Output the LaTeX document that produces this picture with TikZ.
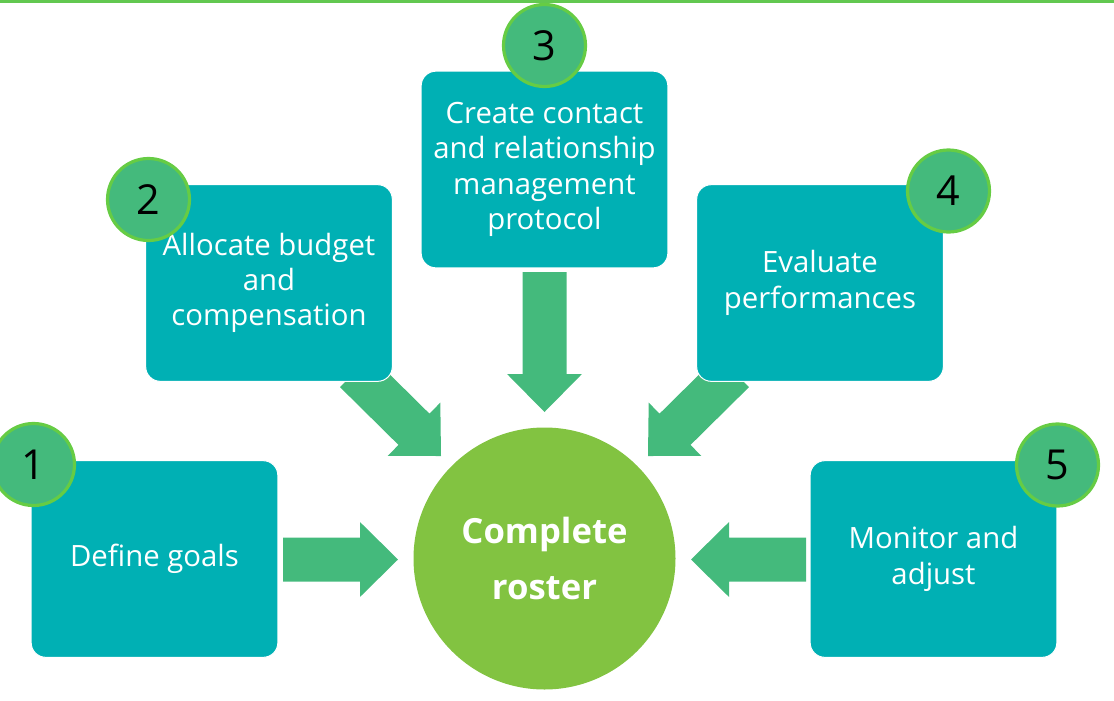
\documentclass[tikz,border=0pt]{standalone}
\usepackage{fontspec}
\setmainfont{Open Sans}
\usetikzlibrary{calc}

\definecolor{boxteal}{RGB}{0,176,180}
\definecolor{arrowgreen}{RGB}{68,186,124}
\definecolor{badgefill}{RGB}{68,186,124}
\definecolor{badgeedge}{RGB}{102,204,68}
\definecolor{hubgreen}{RGB}{130,195,65}
\definecolor{rulegreen}{RGB}{98,200,80}

% block arrow from tail coordinate #1 to tip coordinate #2
\newcommand\blockarrow[2]{%
  \coordinate (#1-base) at ($(#2)!28.5pt!(#1)$);
  \fill[arrowgreen]
    ($(#1)!16.5pt!90:(#2)$) --
    ($(#1-base)!16.5pt!-90:(#1)$) --
    ($(#1-base)!28.1pt!-90:(#1)$) --
    (#2) --
    ($(#1-base)!28.1pt!90:(#1)$) --
    ($(#1-base)!16.5pt!90:(#1)$) --
    ($(#1)!16.5pt!-90:(#2)$) -- cycle;
}

\tikzset{
  stepbox/.style={draw=white, line width=0.75pt, fill=boxteal, rounded corners=11pt,
    minimum width=185pt, minimum height=147.5pt, inner sep=0pt, text=white,
    align=center, font=\fontsize{22}{26.5}\selectfont},
  badge/.style={circle, fill=badgefill, draw=badgeedge, line width=2.4pt,
    minimum size=61.5pt, inner sep=0pt, text=black, font=\fontsize{31}{31}\selectfont},
  hub/.style={circle, fill=hubgreen, minimum size=196.5pt, inner sep=0pt,
    text=white, align=center, font=\bfseries\fontsize{26}{42}\selectfont},
}

\begin{document}
\begin{tikzpicture}[x=0.75pt, y=-0.75pt]
  \useasboundingbox (0,0) rectangle (1114,700);
  \fill[rulegreen] (0,0) rectangle (1114,2.5);

  % arrow end points
  \coordinate (t1) at (283,559.5);   \coordinate (h1) at (398,559.5);
  \coordinate (t2) at (355.5,371.5); \coordinate (h2) at (441,456);
  \coordinate (t3) at (544.5,272);   \coordinate (h3) at (544.5,412);
  \coordinate (t4) at (733.5,371.5); \coordinate (h4) at (648,456);
  \coordinate (t5) at (806,559.5);   \coordinate (h5) at (691,559.5);

  \blockarrow{t1}{h1}
  \blockarrow{t2}{h2}
  \blockarrow{t3}{h3}
  \blockarrow{t4}{h4}
  \blockarrow{t5}{h5}

  % steps
  \node[stepbox] (b1) at (154.5,559) {Define goals};
  \node[stepbox] (b2) at (269,283) {Allocate budget\\and\\compensation};
  \node[stepbox] (b3) at (544.5,169.5) {Create contact\\and relationship\\management\\protocol};
  \node[stepbox] (b4) at (820,283) {Evaluate\\performances};
  \node[stepbox] (b5) at (933.5,559) {Monitor and\\adjust};

  % step numbers
  \node[badge] (n1) at (33.5,464.5) {1};
  \node[badge] (n2) at (148.5,199.5) {2};
  \node[badge] (n3) at (544.5,45.5) {3};
  \node[badge] (n4) at (948.5,191) {4};
  \node[badge] (n5) at (1057.5,465) {5};

  % centre
  \node[hub] (hub) at (544.5,558.5) {Complete\\roster};
\end{tikzpicture}
\end{document}
